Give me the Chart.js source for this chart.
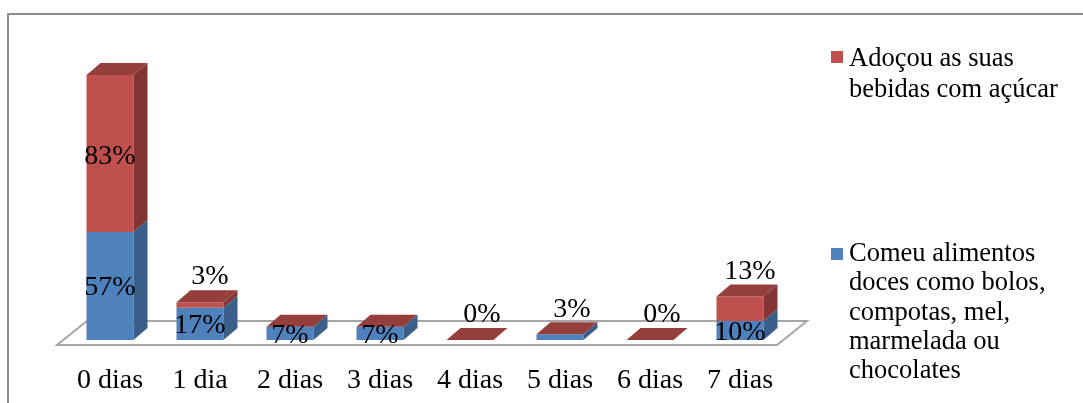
<!DOCTYPE html>
<html>
<head>
<meta charset="utf-8">
<script src="https://cdn.jsdelivr.net/npm/chart.js@4"></script>
<style>
  html, body { margin: 0; padding: 0; background: #fff; }
  #wrap { width: 1083px; height: 403px; position: relative; }
</style>
</head>
<body>
<div id="wrap"><canvas id="c" width="1083" height="403"></canvas></div>
<script>
const categories = ['0 dias', '1 dia', '2 dias', '3 dias', '4 dias', '5 dias', '6 dias', '7 dias'];
const comeuValues = [57, 17, 7, 7, 0, 3, 0, 10];
const adocouValues = [83, 3, 0, 0, 0, 0, 0, 13];
const seriesNames = ['Comeu alimentos doces como bolos, compotas, mel, marmelada ou chocolates',
                     'Adoçou as suas bebidas com açúcar'];

const FAMILY = '"Liberation Serif", "Times New Roman", serif';
const LABEL_FONT = '28px ' + FAMILY;
const LEGEND_FONT = '26.5px ' + FAMILY;
const DX = 14, DY = -12;

const threeD = {
  id: 'threeD',
  beforeDraw(chart) {
    const ctx = chart.ctx;
    ctx.save();
    ctx.strokeStyle = '#8c8c8c';
    ctx.lineWidth = 2;
    ctx.beginPath();
    ctx.moveTo(8, 403);
    ctx.lineTo(8, 14);
    ctx.lineTo(1083, 14);
    ctx.stroke();
    ctx.restore();
  },
  beforeDatasetsDraw(chart) {
    const ctx = chart.ctx, a = chart.chartArea;
    const fl = a.left - 8, fr = a.right - 8, fy = a.bottom + 5;
    ctx.save();
    ctx.strokeStyle = '#a6a6a6';
    ctx.lineWidth = 2;
    ctx.fillStyle = '#ffffff';
    ctx.beginPath();
    ctx.moveTo(fl, fy);
    ctx.lineTo(fr, fy);
    ctx.lineTo(fr + 30, fy - 24);
    ctx.lineTo(fl + 30, fy - 24);
    ctx.closePath();
    ctx.fill();
    ctx.stroke();
    ctx.restore();
  },
  afterDatasetsDraw(chart) {
    const ctx = chart.ctx;
    const sides = ['#3a5f8b', '#843533'];
    const topColor = '#953f3d';
    ctx.save();
    chart.data.datasets.forEach((ds, di) => {
      const meta = chart.getDatasetMeta(di);
      meta.data.forEach((el) => {
        const p = el.getProps(['x', 'y', 'base', 'width'], true);
        const r = p.x + p.width / 2;
        if (p.base - p.y > 0.1) {
          ctx.fillStyle = sides[di];
          ctx.beginPath();
          ctx.moveTo(r, p.y);
          ctx.lineTo(r + DX, p.y + DY);
          ctx.lineTo(r + DX, p.base + DY);
          ctx.lineTo(r, p.base);
          ctx.closePath();
          ctx.fill();
        }
      });
    });
    const topMeta = chart.getDatasetMeta(chart.data.datasets.length - 1);
    topMeta.data.forEach((el) => {
      const p = el.getProps(['x', 'y', 'base', 'width'], true);
      const l = p.x - p.width / 2, r = p.x + p.width / 2;
      ctx.fillStyle = topColor;
      ctx.beginPath();
      ctx.moveTo(l, p.y);
      ctx.lineTo(r, p.y);
      ctx.lineTo(r + DX, p.y + DY);
      ctx.lineTo(l + DX, p.y + DY);
      ctx.closePath();
      ctx.fill();
    });
    ctx.restore();
  },
  afterDraw(chart) {
    const ctx = chart.ctx;
    const mb = chart.getDatasetMeta(0), mr = chart.getDatasetMeta(1);
    ctx.save();
    ctx.font = LABEL_FONT;
    ctx.fillStyle = '#000';
    ctx.textAlign = 'center';
    ctx.textBaseline = 'middle';
    categories.forEach((c, i) => {
      const b = comeuValues[i], r = adocouValues[i];
      const eb = mb.data[i].getProps(['x', 'y', 'base'], true);
      const er = mr.data[i].getProps(['x', 'y', 'base'], true);
      if (b >= 5) ctx.fillText(b + '%', eb.x, (eb.y + eb.base) / 2 + 2);
      if (r >= 20) ctx.fillText(r + '%', er.x, (er.y + er.base) / 2 + 3);
      else if (r > 0) ctx.fillText(r + '%', er.x + 10, er.y - 25);
      if (r === 0 && b < 5) ctx.fillText(b + '%', er.x + 12, er.y - 25);
    });
    // legend
    ctx.font = LEGEND_FONT;
    ctx.textAlign = 'left';
    ctx.textBaseline = 'alphabetic';
    const legendItems = [
      { name: seriesNames[1], color: '#c0504d', sq: 51, base: 66, lh: 30.5 },
      { name: seriesNames[0], color: '#4f81bd', sq: 248, base: 261, lh: 29.3 }
    ];
    legendItems.forEach((it) => {
      ctx.fillStyle = it.color;
      ctx.fillRect(831, it.sq, 12, 12);
      ctx.fillStyle = '#000';
      const words = it.name.split(' ');
      const lines = [];
      let cur = '';
      words.forEach((w) => {
        const t = cur ? cur + ' ' + w : w;
        if (ctx.measureText(t).width > 225 && cur) { lines.push(cur); cur = w; }
        else cur = t;
      });
      if (cur) lines.push(cur);
      lines.forEach((ln, k) => ctx.fillText(ln, 849, it.base + k * it.lh));
    });
    ctx.restore();
  }
};

new Chart(document.getElementById('c'), {
  type: 'bar',
  data: {
    labels: categories,
    datasets: [
      { label: seriesNames[0], data: comeuValues, backgroundColor: '#4f81bd', borderWidth: 0 },
      { label: seriesNames[1], data: adocouValues, backgroundColor: '#c0504d', borderWidth: 0 }
    ]
  },
  options: {
    responsive: false,
    animation: false,
    events: [],
    layout: { padding: { left: 65, right: 298, top: 56, bottom: 8 } },
    plugins: { legend: { display: false }, tooltip: { enabled: false } },
    scales: {
      x: {
        stacked: true,
        grid: { display: false, drawTicks: false },
        border: { display: false },
        ticks: { color: '#000', font: { family: FAMILY, size: 28 }, padding: 24, maxRotation: 0, autoSkip: false },
        afterFit(scale) { scale.height = 55; }
      },
      y: {
        stacked: true,
        display: false,
        min: 0,
        max: 150
      }
    },
    datasets: { bar: { categoryPercentage: 1, barPercentage: 0.522 } }
  },
  plugins: [threeD]
});
</script>
</body>
</html>
